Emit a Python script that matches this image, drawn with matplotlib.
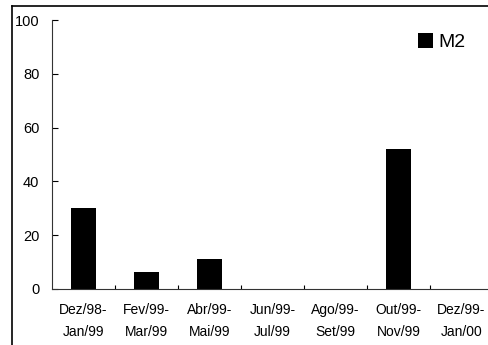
import matplotlib
matplotlib.use("Agg")
import matplotlib.pyplot as plt
from matplotlib.lines import Line2D

categories = ["Dez/98-\nJan/99", "Fev/99-\nMar/99", "Abr/99-\nMai/99", "Jun/99-\nJul/99",
              "Ago/99-\nSet/99", "Out/99-\nNov/99", "Dez/99-\nJan/00"]
values_m2 = [30, 6.3, 11.1, 0, 0, 52, 0]
yticks = [0, 20, 40, 60, 80, 100]
series_name = "M2"

plt.rcParams['font.family'] = ['Liberation Sans', 'DejaVu Sans']

fig = plt.figure(figsize=(4.89, 3.45), dpi=100)
ax = fig.add_axes([52/489, 1-289/345, 441/489, 269/345])

x = list(range(len(categories)))
ax.bar(x, values_m2, width=0.41, color='black', label=series_name)
ax.set_xlim(-0.5, len(categories) - 0.5)
ax.set_ylim(0, 100)
ax.set_yticks(yticks)
ax.set_xticks(x)
ax.set_xticklabels(categories, fontsize=10, linespacing=1.75)
ax.set_xticks([i + 0.5 for i in x[:-1]], minor=True)
ax.tick_params(axis='x', which='major', length=0, pad=10)
ax.tick_params(axis='x', which='minor', direction='in', length=3, width=0.8)
ax.tick_params(axis='y', direction='in', length=4, width=0.8, labelsize=10.5, pad=9)

for s in ['top', 'right']:
    ax.spines[s].set_visible(False)
for s in ['left', 'bottom']:
    ax.spines[s].set_linewidth(0.8)
    ax.spines[s].set_color('#333333')

leg = ax.legend(loc='upper right', bbox_to_anchor=(0.978, 1.015), frameon=False,
                fontsize=14, handlelength=0.75, handleheight=0.75, handletextpad=0.3,
                borderaxespad=0.5)

# outer frame lines (figure border)
fig.add_artist(Line2D([12/489, 12/489], [0, 1-6/345], transform=fig.transFigure, color='black', lw=1.2))
fig.add_artist(Line2D([12/489, 1], [1-6/345, 1-6/345], transform=fig.transFigure, color='black', lw=1.2))

fig.savefig("out.png", dpi=100)
